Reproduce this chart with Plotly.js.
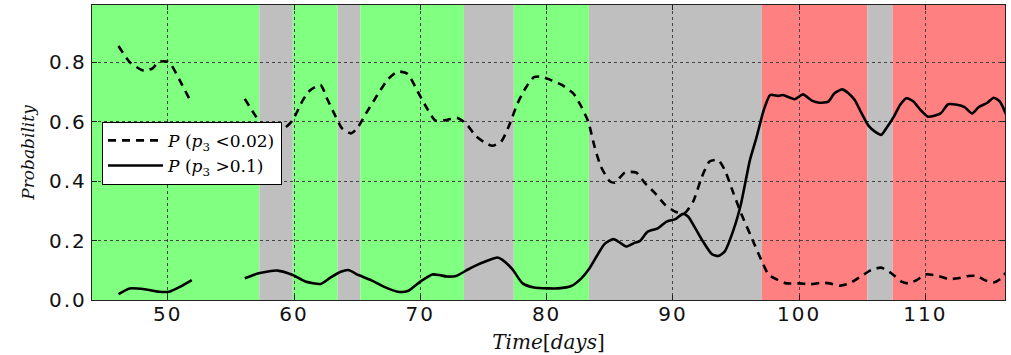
<!DOCTYPE html>
<html>
<head>
<meta charset="utf-8">
<script src="https://cdn.plot.ly/plotly-3.0.1.min.js"></script>
<style>
html,body{margin:0;padding:0;background:#fff;}
#chart{width:1011px;height:355px;}
.xtick text, .ytick text{letter-spacing:2px;}
</style>
</head>
<body>
<div id="chart"></div>
<script>
// P(p3 < 0.02)  (dashed)
const lowDays = [46.1,47.0,48.1,48.8,49.3,50.0,50.3,51.0,51.8,null,56.1,57.0,57.7,58.4,59.3,59.9,60.7,61.3,62.1,62.6,63.3,63.8,64.5,65.0,65.7,66.6,67.4,68.2,69.0,69.8,70.6,71.2,72.1,72.9,73.6,74.4,75.1,75.7,76.4,77.0,77.7,78.4,79.0,79.6,80.3,81.2,82.1,82.75,83.3,83.8,84.3,85.0,85.4,86.2,87.1,87.8,88.6,89.4,90.2,90.9,91.6,92.3,92.9,93.6,94.1,94.8,95.4,96.2,97.0,97.6,98.35,99.0,100.05,100.85,101.8,102.4,103.2,104.0,104.95,105.7,106.5,107.3,108.1,108.65,109.3,110.0,110.9,111.8,112.6,113.4,114.1,114.7,115.4,115.9,116.4];
const lowProb = [0.855,0.80,0.772,0.78,0.802,0.802,0.79,0.735,0.67,null,0.677,0.617,0.585,0.575,0.581,0.606,0.673,0.707,0.724,0.679,0.617,0.578,0.561,0.578,0.628,0.69,0.741,0.769,0.761,0.701,0.64,0.604,0.606,0.613,0.595,0.552,0.53,0.519,0.533,0.584,0.662,0.718,0.75,0.752,0.741,0.724,0.696,0.651,0.60,0.516,0.449,0.40,0.395,0.429,0.429,0.393,0.359,0.32,0.297,0.292,0.331,0.415,0.466,0.471,0.438,0.359,0.292,0.213,0.135,0.084,0.067,0.056,0.056,0.053,0.058,0.056,0.048,0.056,0.081,0.101,0.109,0.09,0.062,0.056,0.067,0.086,0.082,0.071,0.073,0.081,0.081,0.067,0.059,0.07,0.093];

// P(p3 > 0.1)  (solid)
const highDays = [46.1,47.0,48.2,49.3,50.1,51.0,51.9,null,56.1,57.2,58.7,59.9,60.9,62.1,62.9,63.7,64.3,65.1,66.1,67.1,68.2,69.0,70.0,70.95,71.5,72.1,72.9,73.7,74.5,75.3,76.1,76.5,77.3,78.1,79.0,80.1,80.9,81.95,82.75,83.4,84.1,84.6,85.3,85.8,86.3,87.0,87.4,88.0,88.8,89.5,90.2,90.8,91.2,91.7,92.4,93.1,93.6,94.1,94.8,95.4,96.1,96.6,97.2,97.7,98.35,98.7,99.65,100.3,101.0,101.6,102.3,102.8,103.4,103.9,104.4,104.95,105.5,106.0,106.5,106.9,107.5,108.0,108.5,109.05,109.6,110.2,111.2,111.8,112.5,113.1,113.7,114.2,114.9,115.4,115.9,116.4];
const highProb = [0.02,0.039,0.036,0.028,0.028,0.045,0.067,null,0.073,0.09,0.099,0.084,0.062,0.054,0.076,0.095,0.101,0.084,0.067,0.045,0.028,0.03,0.062,0.086,0.084,0.079,0.082,0.101,0.118,0.132,0.143,0.135,0.103,0.056,0.042,0.039,0.039,0.047,0.073,0.107,0.157,0.189,0.205,0.193,0.18,0.193,0.199,0.23,0.241,0.264,0.272,0.29,0.281,0.247,0.196,0.154,0.148,0.163,0.236,0.325,0.471,0.544,0.64,0.69,0.687,0.69,0.676,0.692,0.671,0.664,0.668,0.696,0.709,0.696,0.673,0.628,0.586,0.567,0.556,0.578,0.617,0.657,0.679,0.668,0.64,0.617,0.628,0.659,0.657,0.649,0.628,0.649,0.664,0.681,0.668,0.623];

// Background regimes
const regionStart = [44, 57.25, 59.9, 63.45, 65.25, 73.45, 77.4, 83.35, 97.05, 105.4, 107.4];
const regionEnd   = [57.25, 59.9, 63.45, 65.25, 73.45, 77.4, 83.35, 97.05, 105.4, 107.4, 116.3];
const regionState = ['low','mid','low','mid','low','mid','low','mid','high','mid','high'];

const xTicks = [50, 60, 70, 80, 90, 100, 110];
const yTicks = [0.0, 0.2, 0.4, 0.6, 0.8];

const stateColor = {low:'#80ff80', mid:'#bfbfbf', high:'#ff8080'};
const shapes = regionStart.map((s, i) => ({
  type:'rect', xref:'x', yref:'paper', x0:s, x1:regionEnd[i], y0:0, y1:1,
  fillcolor: stateColor[regionState[i]], line:{width:0}, layer:'below'
}));

const traces = [
  {x: lowDays, y: lowProb, mode:'lines', name:'<i>P</i> (<i>p</i><sub>3</sub> &lt;0.02)', legendgroup:'a',
   line:{color:'#000', width:2.6, dash:'8px,6px', shape:'spline', smoothing:0.6}, connectgaps:false},
  {x: highDays, y: highProb, mode:'lines', name:'<i>P</i> (<i>p</i><sub>3</sub> &gt;0.1)', legendgroup:'b',
   line:{color:'#000', width:2.6, shape:'spline', smoothing:0.6}, connectgaps:false}
];

const axisCommon = {
  showline:true, linecolor:'#222', linewidth:1.2, mirror:'ticks',
  ticks:'inside', ticklen:5, tickcolor:'#222', tickwidth:1,
  showgrid:true, gridcolor:'#444', griddash:'dot', gridwidth:1,
  zeroline:false, tickfont:{family:'DejaVu Sans', size:20, color:'#111'}
};

const layout = {
  width:1011, height:355,
  margin:{l:92, r:6, t:5, b:55},
  paper_bgcolor:'#fff', plot_bgcolor:'#fff',
  showlegend:true,
  legend:{x:0.011, y:0.604, xanchor:'left', yanchor:'top',
    bgcolor:'#fff', bordercolor:'#000', borderwidth:1, itemwidth:55, tracegroupgap:0,
    font:{family:'DejaVu Serif', size:17, color:'#000'}, traceorder:'grouped'},
  xaxis: Object.assign({}, axisCommon, {range:[44, 116.3], tickvals:xTicks, ticktext:xTicks.map(String),
    ticklabelstandoff:-4,
    title:{text:'<i>Time</i>[<i>days</i>]', font:{family:'DejaVu Serif', size:20, color:'#111'}, standoff:9}}),
  yaxis: Object.assign({}, axisCommon, {range:[0, 0.993], tickvals:yTicks, ticktext:yTicks.map(v=>v.toFixed(1)),
    title:{text:'<i>Probability</i>', font:{family:'DejaVu Serif', size:17, color:'#111'}, standoff:10}}),
  shapes: shapes
};

Plotly.newPlot('chart', traces, layout, {staticPlot:true, displayModeBar:false});
</script>
</body>
</html>
